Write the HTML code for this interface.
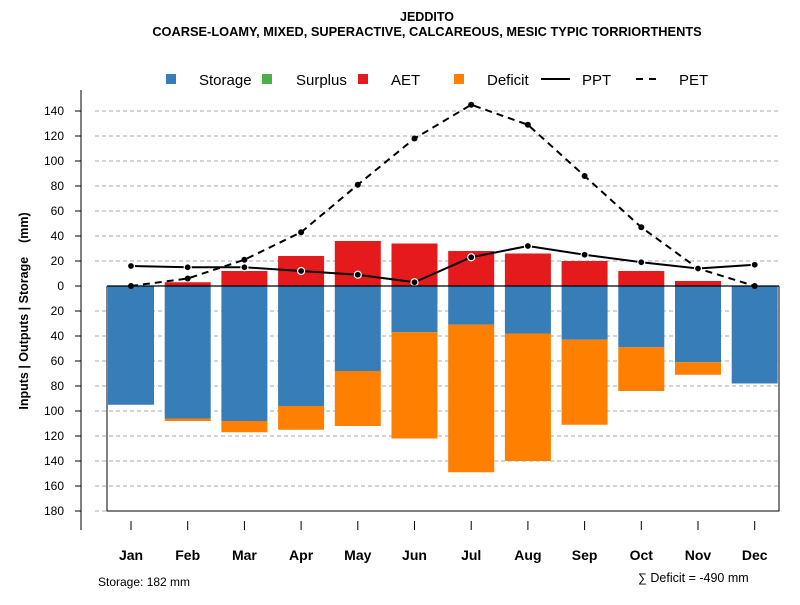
<!DOCTYPE html>
<html><head><meta charset="utf-8"><style>
body{margin:0;background:#fff;}
svg text{font-family:"Liberation Sans",sans-serif;}
</style></head><body>
<svg id="chart" width="800" height="600" xmlns="http://www.w3.org/2000/svg">
<rect width="800" height="600" fill="#fff"/>
<text x="427" y="21" text-anchor="middle" font-size="12.5" font-weight="bold">JEDDITO</text>
<text x="427" y="36" text-anchor="middle" font-size="12.8" font-weight="bold">COARSE-LOAMY, MIXED, SUPERACTIVE, CALCAREOUS, MESIC TYPIC TORRIORTHENTS</text>
<g id="grid"></g>
<g id="bars"></g>
<g id="lines"></g>
<g id="axes"></g>
<g font-size="15">
 <rect x="166" y="74" width="10" height="10" fill="#377EB8"/>
 <text x="199" y="85">Storage</text>
 <rect x="262" y="74" width="10" height="10" fill="#4DAF4A"/>
 <text x="296" y="85">Surplus</text>
 <rect x="358" y="74" width="10" height="10" fill="#E41A1C"/>
 <text x="391" y="85">AET</text>
 <rect x="454" y="74" width="10" height="10" fill="#FF7F00"/>
 <text x="487" y="85">Deficit</text>
 <line x1="541" y1="79" x2="570" y2="79" stroke="#000" stroke-width="2"/>
 <text x="582" y="85">PPT</text>
 <line x1="636" y1="79" x2="662" y2="79" stroke="#000" stroke-width="2" stroke-dasharray="7,6"/>
 <text x="679" y="85">PET</text>
</g>
<text x="98" y="586" font-size="12">Storage: 182 mm</text>
<text x="638" y="582" font-size="12.5">∑ Deficit = -490 mm</text>
<text transform="translate(28,311) rotate(-90)" text-anchor="middle" font-size="12.5" font-weight="bold">Inputs | Outputs | Storage &#160;&#160;&#160;(mm)</text>
</svg>
<script>
const months=["Jan","Feb","Mar","Apr","May","Jun","Jul","Aug","Sep","Oct","Nov","Dec"];
const storage=[95,106,108,96,68,37,31,38,43,49,61,78];
const deficit=[0,2,9,19,44,85,118,102,68,35,10,0];
const aet=[0,3,12,24,36,34,28,26,20,12,4,0];
const ppt=[16,15,15,12,9,3,23,32,25,19,14,17];
const pet=[0,6,21,43,81,118,145,129,88,47,14,0];
const yTicks=[140,120,100,80,60,40,20,0,20,40,60,80,100,120,140,160,180];
const NS="http://www.w3.org/2000/svg";
function y(v){return 286-v*1.25;}
function x(i){return 131+i*56.7;}
function mk(tag,attrs,parent){const e=document.createElementNS(NS,tag);for(const k in attrs)e.setAttribute(k,attrs[k]);document.getElementById(parent).appendChild(e);return e;}
const bw=46;
yTicks.forEach((t,i)=>{
 const v=i<7?t:-t;
 if(v!==0){const g=mk('line',{x1:95,x2:780,y1:y(v),y2:y(v),stroke:'#aaa','stroke-dasharray':'4,3'},'grid');
 
 }
 const tk=mk('line',{x1:75,x2:81,y1:y(v),y2:y(v),stroke:'#000'},'axes');
 
 
 const tl=mk('text',{x:64,y:y(v)+4,'text-anchor':'end','font-size':12},'axes');
 tl.textContent=t;
 
 
});
months.forEach((m,i)=>{
 const cx=x(i);
 const s=mk('rect',{x:cx-bw/2,y:y(0),width:bw,height:storage[i]*1.25,fill:'#377EB8'},'bars');
 
 
 if(deficit[i]>0){const d=mk('rect',{x:cx-bw/2,y:y(-storage[i]),width:bw,height:deficit[i]*1.25,fill:'#FF7F00'},'bars');
 
 }
 if(aet[i]>0){const a=mk('rect',{x:cx-bw/2,y:y(aet[i]),width:bw,height:aet[i]*1.25,fill:'#E41A1C'},'bars');
 
 }
 const tk=mk('line',{x1:cx,x2:cx,y1:521,y2:530,stroke:'#000'},'axes');
 
 
 const tl=mk('text',{x:cx,y:560,'text-anchor':'middle','font-size':14,'font-weight':'bold'},'axes');
 tl.textContent=m;
 
 
});
const zl=mk('line',{x1:107,x2:779,y1:y(0),y2:y(0),stroke:'#000','stroke-width':1.2},'axes');


const fr=mk('path',{d:`M107,${y(0)}V511H779V${y(0)}`,fill:'none',stroke:'#000'},'axes');


const ya=mk('line',{x1:81,x2:81,y1:90,y2:530,stroke:'#000'},'axes');


function series(vals,name,dash,white){
 const p=mk('polyline',{points:vals.map((v,i)=>x(i)+','+y(v)).join(' '),fill:'none',stroke:'#000','stroke-width':2,'stroke-dasharray':dash},'lines');
 
 
 vals.forEach((v,i)=>{
  const c=mk('circle',{cx:x(i),cy:y(v),r:white?3.5:3,fill:'#000',stroke:white?'#fff':'none','stroke-width':1.2},'lines');
  
  
 });
}
series(pet,'pet','7,5',false);
series(ppt,'ppt','none',true);
</script>
</body></html>
